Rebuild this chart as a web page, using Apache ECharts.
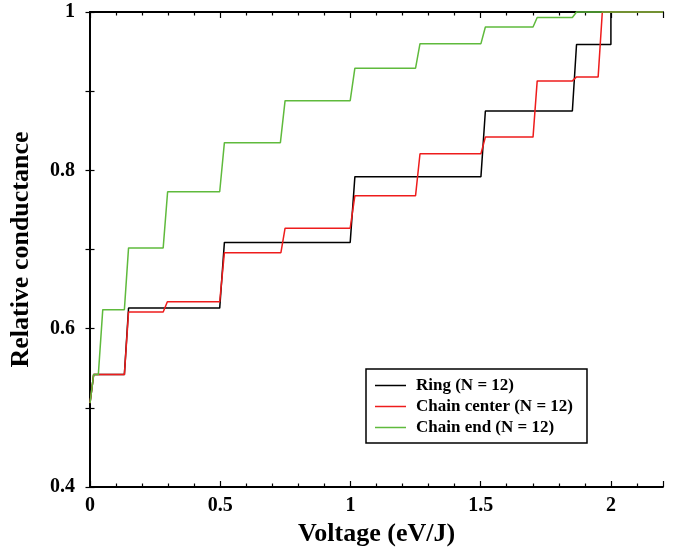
<!DOCTYPE html>
<html>
<head>
<meta charset="utf-8">
<script src="https://cdn.jsdelivr.net/npm/echarts@6/dist/echarts.min.js"></script>
<style>html,body{margin:0;padding:0;background:#fff}#c{width:676px;height:552px}</style>
</head>
<body>
<div id="c"></div>
<script>
// Ring (N = 12)
const ringX = [0, 0.014, 0.132, 0.148, 0.498, 0.516, 0.999, 1.017, 1.501, 1.518, 1.852, 1.868, 2.0, 2.0, 2.2];
const ringY = [0.506, 0.542, 0.542, 0.626, 0.626, 0.709, 0.709, 0.792, 0.792, 0.875, 0.875, 0.959, 0.959, 1.0, 1.0];
// Chain center (N = 12)
const centerX = [0, 0.014, 0.132, 0.148, 0.281, 0.297, 0.498, 0.516, 0.733, 0.749, 0.999, 1.017, 1.250, 1.267, 1.501, 1.518, 1.701, 1.717, 1.852, 1.868, 1.951, 1.967, 2.2];
const centerY = [0.506, 0.542, 0.542, 0.621, 0.621, 0.634, 0.634, 0.696, 0.696, 0.727, 0.727, 0.768, 0.768, 0.821, 0.821, 0.842, 0.842, 0.913, 0.913, 0.918, 0.918, 1.0, 1.0];
// Chain end (N = 12)
const endX = [0, 0.014, 0.032, 0.049, 0.132, 0.148, 0.281, 0.298, 0.498, 0.516, 0.731, 0.749, 0.999, 1.017, 1.250, 1.267, 1.501, 1.518, 1.701, 1.717, 1.852, 1.868, 2.2];
const endY = [0.506, 0.542, 0.542, 0.624, 0.624, 0.702, 0.702, 0.773, 0.773, 0.835, 0.835, 0.888, 0.888, 0.929, 0.929, 0.960, 0.960, 0.981, 0.981, 0.993, 0.993, 1.0, 1.0];

const seriesNames = ['Ring (N = 12)', 'Chain center (N = 12)', 'Chain end (N = 12)'];
const seriesColors = ['#000000', '#ee1c1c', '#5fba3c'];

function pairs(xs, ys) { return xs.map((x, i) => [x, ys[i]]); }

const FONT = '"Liberation Serif", "DejaVu Serif", serif';
const frame = { show: true, lineStyle: { color: '#000', width: 1.8 } };

function xAx(pos, labels) {
  return {
    type: 'value', position: pos, min: 0, max: 2.2, interval: 0.5,
    axisLine: frame,
    axisTick: { show: true, inside: true, length: 6, lineStyle: { color: '#000', width: 1.2 } },
    minorTick: { show: true, splitNumber: 5, length: 3.5, lineStyle: { color: '#000', width: 1.2 } },
    splitLine: { show: false },
    axisLabel: { show: labels, showMaxLabel: false, margin: 9, color: '#000', fontFamily: FONT, fontWeight: 'bold', fontSize: 20 },
    name: labels ? 'Voltage (eV/J)' : '', nameLocation: 'middle', nameGap: 33,
    nameTextStyle: { color: '#000', fontFamily: FONT, fontWeight: 'bold', fontSize: 26 }
  };
}
function yAx(pos, labels) {
  return {
    type: 'value', position: pos, min: 0.4, max: 1, interval: 0.1,
    axisLine: frame,
    axisTick: { show: true, inside: true, length: 4.5, lineStyle: { color: '#000', width: 1.2 } },
    splitLine: { show: false },
    axisLabel: { show: labels, margin: 15, color: '#000', fontFamily: FONT, fontWeight: 'bold', fontSize: 20,
      formatter: v => { const k = Math.round(v * 10); return k % 2 === 0 ? String(k / 10) : ''; } },
    name: labels ? 'Relative conductance' : '', nameLocation: 'middle', nameGap: 56,
    nameTextStyle: { color: '#000', fontFamily: FONT, fontWeight: 'bold', fontSize: 26 }
  };
}

const data = [pairs(ringX, ringY), pairs(centerX, centerY), pairs(endX, endY)];

const chart = echarts.init(document.getElementById('c'), null, { renderer: 'canvas' });
chart.setOption({
  animation: false,
  backgroundColor: '#fff',
  grid: { left: 89, top: 12, right: 13, bottom: 65, containLabel: false },
  xAxis: [xAx('bottom', true), xAx('top', false)],
  yAxis: [yAx('left', true), yAx('right', false)],
  legend: {
    data: seriesNames.map((n, i) => ({ name: n, icon: 'rect', itemStyle: { color: seriesColors[i] } })),
    orient: 'vertical', left: 366, top: 369,
    padding: [8, 14, 7, 9], itemGap: 4,
    itemWidth: 31, itemHeight: 1.5,
    borderColor: '#000', borderWidth: 1.5, backgroundColor: '#fff',
    textStyle: { color: '#000', fontFamily: FONT, fontWeight: 'bold', fontSize: 17, padding: [0, 0, 0, 5] }
  },
  series: data.map((d, i) => ({
    name: seriesNames[i], type: 'line', data: d, symbol: 'none',
    xAxisIndex: 0, yAxisIndex: 0,
    lineStyle: { color: seriesColors[i], width: 1.5 },
    itemStyle: { color: seriesColors[i] },
    clip: false
  }))
});
</script>
</body>
</html>
